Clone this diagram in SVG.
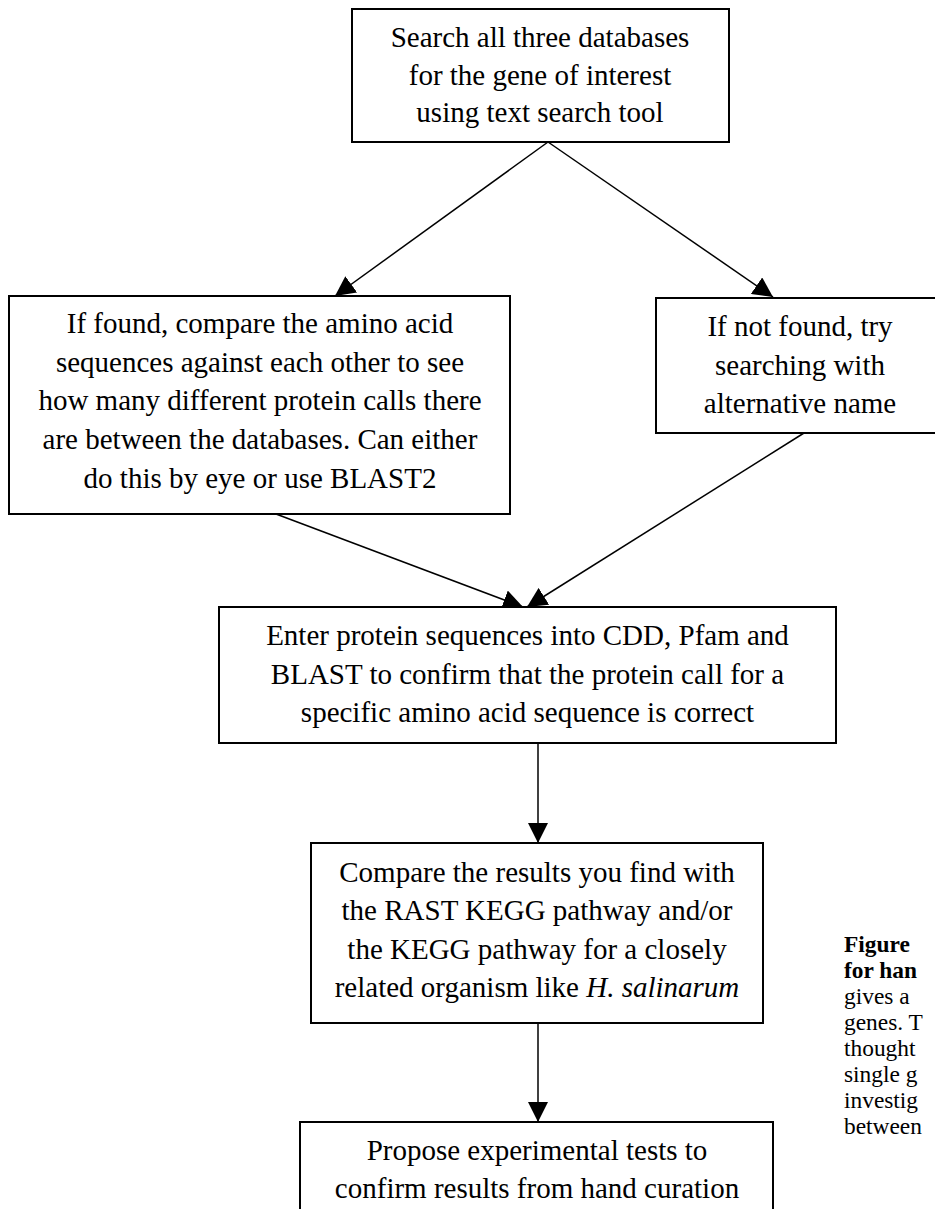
<svg xmlns="http://www.w3.org/2000/svg" width="935" height="1209" viewBox="0 0 935 1209">
<style>
.box{fill:#fff;stroke:#000;stroke-width:2}
.t{font-family:"Liberation Serif","Times New Roman",serif;font-size:29px;fill:#000;text-anchor:middle}
.cap{font-family:"Liberation Serif","Times New Roman",serif;font-size:23.4px;fill:#000}
.b{font-weight:bold}
.c{stroke:#000;stroke-width:1.5;fill:none;marker-end:url(#ah)}
</style>
<defs>
<marker id="ah" markerUnits="userSpaceOnUse" markerWidth="20" markerHeight="20" refX="20" refY="10" orient="auto">
<path d="M0,0 L20,10 L0,20 z" fill="#000"/>
</marker>
</defs>
<rect width="935" height="1209" fill="#fff"/>
<g id="connectors">
<line class="c" x1="548" y1="142" x2="335" y2="296"/>
<line class="c" x1="548" y1="142" x2="773" y2="297"/>
<line class="c" x1="276" y1="514" x2="523" y2="607"/>
<line class="c" x1="804" y1="433" x2="527" y2="607"/>
<line class="c" x1="538" y1="743" x2="538" y2="843"/>
<line class="c" x1="538" y1="1023" x2="538" y2="1122"/>
</g>
<g id="n1">
<rect class="box" x="352" y="9" width="377" height="133"/>
<text class="t" x="540" y="47">Search all three databases</text>
<text class="t" x="540" y="85">for the gene of interest</text>
<text class="t" x="540" y="122">using text search tool</text>
</g>
<g id="n2">
<rect class="box" x="9" y="296" width="501" height="218"/>
<text class="t" x="260" y="333">If found, compare the amino acid</text>
<text class="t" x="260" y="372">sequences against each other to see</text>
<text class="t" x="260" y="410">how many different protein calls there</text>
<text class="t" x="260" y="449">are between the databases. Can either</text>
<text class="t" x="260" y="488">do this by eye or use BLAST2</text>
</g>
<g id="n3">
<rect class="box" x="656" y="298" width="288" height="135"/>
<text class="t" x="800" y="336">If not found, try</text>
<text class="t" x="800" y="375">searching with</text>
<text class="t" x="800" y="413">alternative name</text>
</g>
<g id="n4">
<rect class="box" x="219" y="607" width="617" height="136"/>
<text class="t" x="527.5" y="645">Enter protein sequences into CDD, Pfam and</text>
<text class="t" x="527.5" y="684">BLAST to confirm that the protein call for a</text>
<text class="t" x="527.5" y="722">specific amino acid sequence is correct</text>
</g>
<g id="n5">
<rect class="box" x="311" y="843" width="452" height="180"/>
<text class="t" x="537" y="882">Compare the results you find with</text>
<text class="t" x="537" y="920">the RAST KEGG pathway and/or</text>
<text class="t" x="537" y="959">the KEGG pathway for a closely</text>
<text class="t" x="537" y="997">related organism like <tspan font-style="italic">H. salinarum</tspan></text>
</g>
<g id="n6">
<rect class="box" x="300" y="1122" width="473" height="120"/>
<text class="t" x="537" y="1160">Propose experimental tests to</text>
<text class="t" x="537" y="1198">confirm results from hand curation</text>
</g>
<g id="caption">
<text class="cap b" x="844" y="952">Figure</text>
<text class="cap b" x="844" y="978">for han</text>
<text class="cap" x="844" y="1004">gives a</text>
<text class="cap" x="844" y="1030">genes. T</text>
<text class="cap" x="844" y="1056">thought</text>
<text class="cap" x="844" y="1082">single g</text>
<text class="cap" x="844" y="1108">investig</text>
<text class="cap" x="844" y="1134">between</text>
</g>
</svg>
